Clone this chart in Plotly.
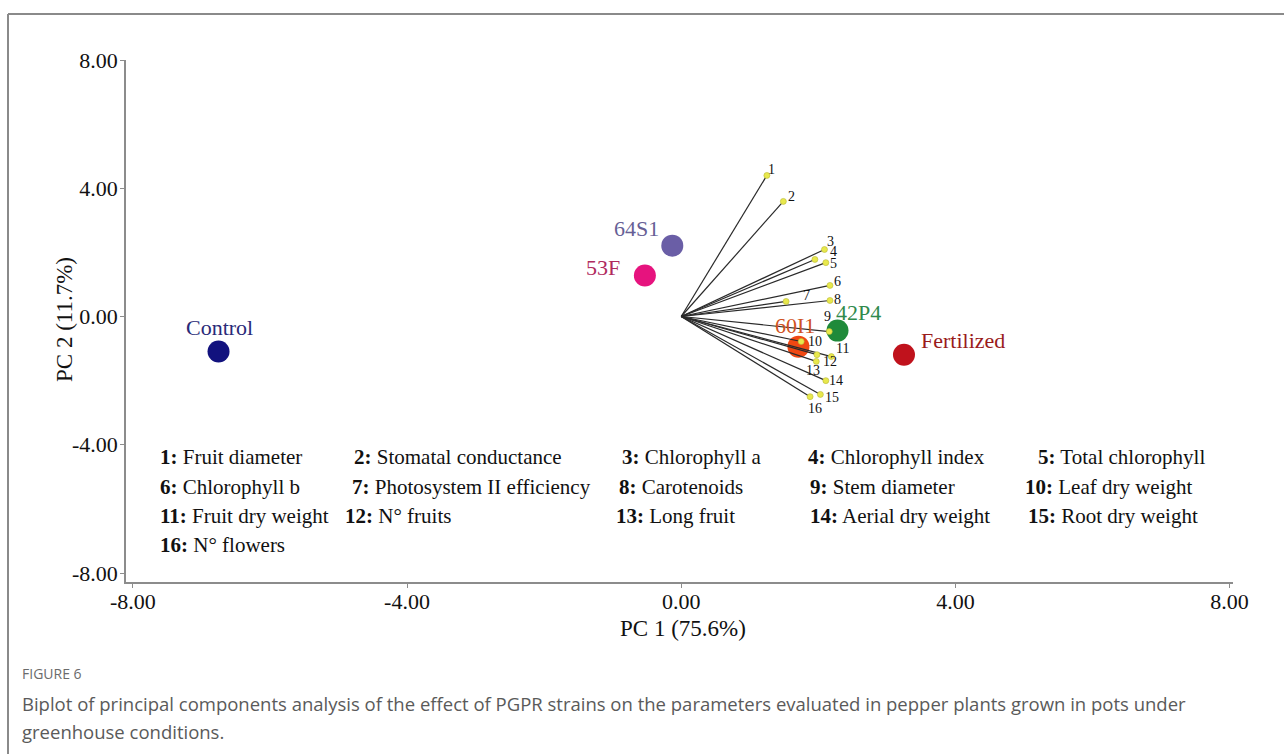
import plotly.graph_objects as go

# ---------------- data ----------------
treatments = ["Control", "64S1", "53F", "42P4", "60I1", "Fertilized"]
pc1_scores = [-6.75, -0.13, -0.53, 2.28, 1.71, 3.25]
pc2_scores = [-1.09, 2.21, 1.28, -0.44, -0.94, -1.19]

var_ids = ["1", "2", "3", "4", "5", "6", "7", "8", "9", "10", "11", "12", "13", "14", "15", "16"]
var_names = ["Fruit diameter", "Stomatal conductance", "Chlorophyll a", "Chlorophyll index",
             "Total chlorophyll", "Chlorophyll b", "Photosystem II efficiency", "Carotenoids",
             "Stem diameter", "Leaf dry weight", "Fruit dry weight", "N° fruits", "Long fruit",
             "Aerial dry weight", "Root dry weight", "N° flowers"]
load_pc1 = [1.25, 1.49, 2.09, 1.95, 2.11, 2.17, 1.53, 2.17, 2.16, 1.75, 2.19, 1.98, 1.97, 2.11, 2.03, 1.88]
load_pc2 = [4.40, 3.59, 2.09, 1.78, 1.68, 0.97, 0.47, 0.50, -0.47, -0.78, -1.25, -1.19, -1.40, -2.00, -2.43, -2.50]

tick_vals = [-8, -4, 0, 4, 8]
tick_text = ["-8.00", "-4.00", "0.00", "4.00", "8.00"]

x_title = "PC 1 (75.6%)"
y_title = "PC 2 (11.7%)"
fig_label = "FIGURE 6"
caption_lines = ["Biplot of principal components analysis of the effect of PGPR strains on the parameters "
                 "evaluated in pepper plants grown in pots under",
                 "greenhouse conditions."]

# ---------------- styles ----------------
score_colors = ["#12127e", "#6a5ea6", "#e6137e", "#1f8a3a", "#f04812", "#c0121c"]
label_colors = ["#2a2a78", "#675f96", "#b02a5e", "#2f8a4c", "#d0521e", "#9a1b1b"]
label_shift = [(1, 24), (-36, 17), (-42, 8), (21, 18), (-3, 21), (59, 14)]
num_shift = [(5, 6), (8, 5), (6, 8), (19, 8), (8, -1), (8, 4), (20, 6), (8, 1), (-2, 15),
             (14, 0), (11, 8), (13, -7), (-3, -9), (10, 0), (12, -3), (5, -12)]

W, H = 1284, 754
L, R, T, B = 126, 1233, 60, 582


def px(x):
    return (x - L) / (R - L)


def py(y):
    return (B - y) / (B - T)


SERIF = "Liberation Serif"
SANS = "Open Sans"

fig = go.Figure()

# score markers
fig.add_trace(go.Scatter(
    x=pc1_scores, y=pc2_scores, mode="markers",
    marker=dict(size=22, color=score_colors, line=dict(width=0)),
    hoverinfo="skip", showlegend=False))

# loading vectors
lx, ly = [], []
for a, b in zip(load_pc1, load_pc2):
    lx += [0, a, None]
    ly += [0, b, None]
fig.add_trace(go.Scatter(x=lx, y=ly, mode="lines",
                         line=dict(color="#2a2a2a", width=1.2),
                         hoverinfo="skip", showlegend=False))
fig.add_trace(go.Scatter(x=load_pc1, y=load_pc2, mode="markers",
                         marker=dict(size=6, color="#e8e84c", line=dict(color="#b8b838", width=0.6)),
                         hoverinfo="skip", showlegend=False))

ann = []
for t, x, y, c, (dx, dy) in zip(treatments, pc1_scores, pc2_scores, label_colors, label_shift):
    ann.append(dict(x=x, y=y, xref="x", yref="y", text=t, showarrow=False,
                    xshift=dx, yshift=dy, font=dict(family=SERIF, size=22, color=c)))
for v, x, y, (dx, dy) in zip(var_ids, load_pc1, load_pc2, num_shift):
    ann.append(dict(x=x, y=y, xref="x", yref="y", text=v, showarrow=False,
                    xshift=dx, yshift=dy, font=dict(family=SERIF, size=14, color="#111111")))

# variable key (5 columns x 4 rows)
col_x = [[158, 352, 620, 806, 1036],
         [158, 350, 617, 808, 1023],
         [158, 343, 614, 808, 1026],
         [158]]
row_y = [457, 487, 516, 545]
k = 0
for r, xs in enumerate(col_x):
    for cx in xs:
        ann.append(dict(x=px(cx), y=py(row_y[r]), xref="paper", yref="paper",
                        xanchor="left", yanchor="middle", showarrow=False,
                        text="<b>%s:</b> %s" % (var_ids[k], var_names[k]),
                        font=dict(family=SERIF, size=21, color="#111111")))
        k += 1

# axis titles
ann.append(dict(x=px(683), y=py(628), xref="paper", yref="paper", text=x_title, showarrow=False,
                xanchor="center", yanchor="middle", font=dict(family=SERIF, size=23, color="#111111")))
ann.append(dict(x=px(64), y=py(320), xref="paper", yref="paper", text=y_title, showarrow=False,
                textangle=-90, xanchor="center", yanchor="middle",
                font=dict(family=SERIF, size=23, color="#111111")))

# caption
ann.append(dict(x=px(20), y=py(673), xref="paper", yref="paper", text=fig_label, showarrow=False,
                xanchor="left", yanchor="middle", font=dict(family=SANS, size=14, color="#6b6b6b")))
for i, line in enumerate(caption_lines):
    ann.append(dict(x=px(20), y=py(703 + 28 * i), xref="paper", yref="paper", text=line,
                    showarrow=False, xanchor="left", yanchor="middle", align="left",
                    font=dict(family=SANS, size=18.5, color="#5a5a5a")))

shapes = [
    dict(type="line", xref="paper", yref="paper", x0=px(8), x1=px(W + 5), y0=py(14), y1=py(14),
         line=dict(color="#8a8a8a", width=2)),
    dict(type="line", xref="paper", yref="paper", x0=px(8), x1=px(8), y0=py(14), y1=py(H + 5),
         line=dict(color="#8a8a8a", width=2)),
]

axis_common = dict(showgrid=False, zeroline=False, showline=True, linecolor="#8c8c8c", linewidth=1.5,
                   ticks="outside", ticklen=4, tickcolor="#8c8c8c", tickwidth=1,
                   tickvals=tick_vals, ticktext=tick_text,
                   tickfont=dict(family=SERIF, size=22, color="#111111"))

fig.update_layout(
    width=W, height=H,
    margin=dict(l=L, r=W - R, t=T, b=H - B),
    paper_bgcolor="white", plot_bgcolor="white",
    xaxis=dict(range=[-8.1, 8.05], ticklabelstandoff=-5, **axis_common),
    yaxis=dict(range=[-8.28, 8.0], ticklabelstandoff=-2, **axis_common),
    annotations=ann, shapes=shapes, showlegend=False,
)

fig.write_html("out.html")
